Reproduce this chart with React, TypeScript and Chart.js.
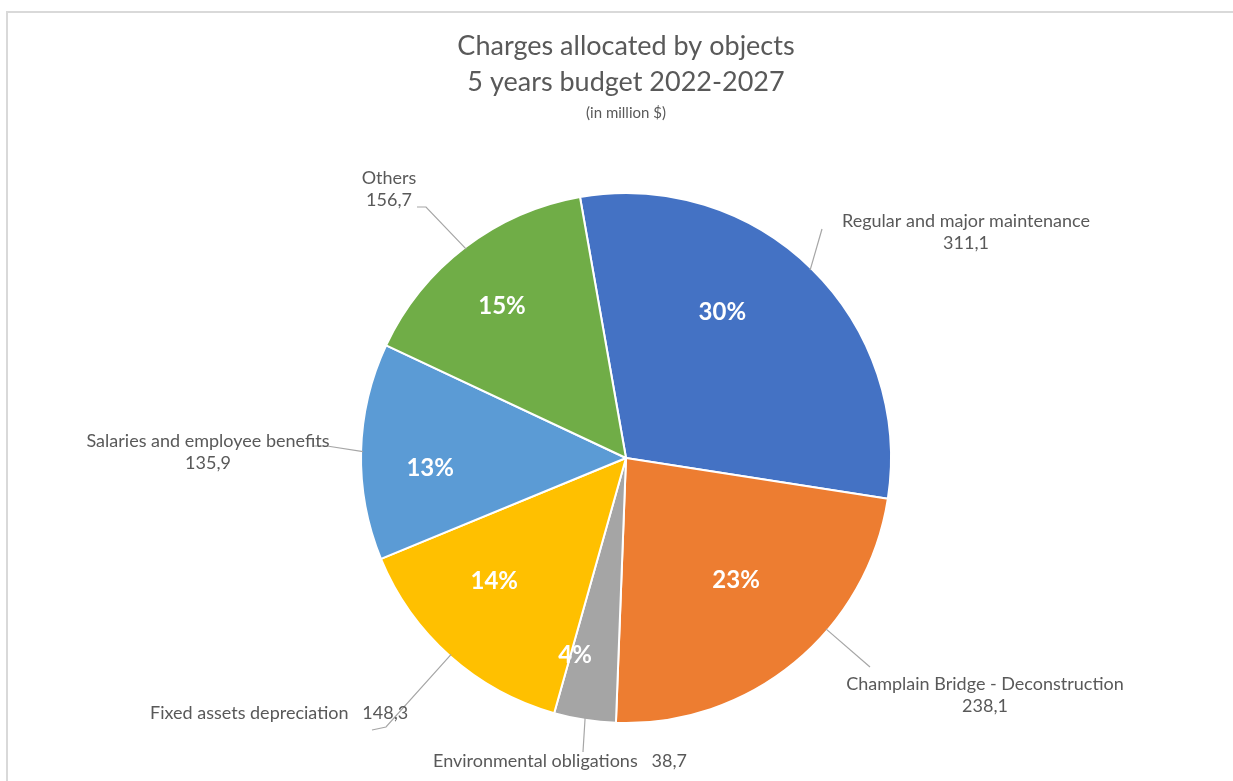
import React, { useEffect, useRef } from "react";
import { Chart, registerables } from "chart.js";

Chart.register(...registerables);

const categories = [
  "Regular and major maintenance",
  "Champlain Bridge - Deconstruction",
  "Environmental obligations",
  "Fixed assets depreciation",
  "Salaries and employee benefits",
  "Others",
];
const valueLabels = ["311,1", "238,1", "38,7", "148,3", "135,9", "156,7"];
const values = [311.1, 238.1, 38.7, 148.3, 135.9, 156.7];
const colors = ["#4472C4", "#ED7D31", "#A5A5A5", "#FFC000", "#5B9BD5", "#70AD47"];
const titleLines = ["Charges allocated by objects", "5 years budget 2022-2027"];
const subtitle = "(in million $)";

// label placement (relative to pie centre), kept apart from the data
type Place = {
  pctAngle: number; // degrees offset from mid-angle for the % label
  pctR: number; // fraction of radius for the % label
  mode: "stack" | "inline";
  tx: number;
  ty: number;
  leader: [number, number][];
  edgeAngle: number; // deg offset of leader end from mid angle
};
const places: Place[] = [
  { pctAngle: -11, pctR: 0.66, mode: "stack", tx: 340, ty: -237, leader: [[196, -229]], edgeAngle: 0 },
  { pctAngle: -2.6, pctR: 0.62, mode: "stack", tx: 359, ty: 226, leader: [[244, 209]], edgeAngle: -10 },
  { pctAngle: 5.5, pctR: 0.77, mode: "inline", tx: -193, ty: 303, leader: [[-43, 294]], edgeAngle: 0 },
  { pctAngle: 5.3, pctR: 0.68, mode: "inline", tx: -476, ty: 255, leader: [[-254, 272], [-240, 269]], edgeAngle: 0 },
  { pctAngle: -4.5, pctR: 0.74, mode: "stack", tx: -418, ty: -17, leader: [[-313, -12], [-299, -12]], edgeAngle: 0 },
  { pctAngle: -1.8, pctR: 0.74, mode: "stack", tx: -237, ty: -280, leader: [[-209, -251], [-200, -251]], edgeAngle: 0 },
];

const FONT = "Lato, 'Open Sans', sans-serif";
const TEXT = "#595959";

const overlay = {
  id: "overlay",
  beforeDraw(chart: any) {
    const ctx = chart.ctx;
    ctx.save();
    ctx.strokeStyle = "#d9d9d9";
    ctx.lineWidth = 2;
    ctx.beginPath();
    ctx.moveTo(7, 781);
    ctx.lineTo(7, 12);
    ctx.lineTo(1233, 12);
    ctx.stroke();
    ctx.restore();
  },
  afterDraw(chart: any) {
    const ctx = chart.ctx;
    const meta = chart.getDatasetMeta(0);
    const arcs = meta.data;
    if (!arcs.length) return;
    const cx = arcs[0].x;
    const cy = arcs[0].y;
    const R = arcs[0].outerRadius;
    const total = values.reduce((a, b) => a + b, 0);
    ctx.save();
    // titles
    ctx.fillStyle = TEXT;
    ctx.textAlign = "center";
    ctx.textBaseline = "middle";
    ctx.font = `27px ${FONT}`;
    ctx.fillText(titleLines[0], cx, 46);
    ctx.fillText(titleLines[1], cx, 82);
    ctx.font = `15px ${FONT}`;
    ctx.fillText(subtitle, cx, 113);

    arcs.forEach((arc: any, i: number) => {
      const p = places[i];
      const mid = (arc.startAngle + arc.endAngle) / 2;
      // percentage label
      const pa = mid + (p.pctAngle * Math.PI) / 180;
      const pr = R * p.pctR;
      const pct = Math.round((values[i] / total) * 100) + "%";
      ctx.font = `bold 24px ${FONT}`;
      ctx.fillStyle = "#ffffff";
      ctx.textAlign = "center";
      ctx.textBaseline = "middle";
      ctx.fillText(pct, cx + Math.cos(pa) * pr, cy + Math.sin(pa) * pr);

      // leader line
      const ea = mid + (p.edgeAngle * Math.PI) / 180;
      ctx.strokeStyle = "#a6a6a6";
      ctx.lineWidth = 1.2;
      ctx.beginPath();
      p.leader.forEach(([dx, dy], k) => {
        if (k === 0) ctx.moveTo(cx + dx, cy + dy);
        else ctx.lineTo(cx + dx, cy + dy);
      });
      ctx.lineTo(cx + Math.cos(ea) * (R - 2), cy + Math.sin(ea) * (R - 2));
      ctx.stroke();

      // category text
      ctx.fillStyle = TEXT;
      ctx.font = `18px ${FONT}`;
      if (p.mode === "stack") {
        ctx.textAlign = "center";
        ctx.fillText(categories[i], cx + p.tx, cy + p.ty);
        ctx.fillText(valueLabels[i], cx + p.tx, cy + p.ty + 22);
      } else {
        ctx.textAlign = "left";
        ctx.fillText(categories[i] + "   " + valueLabels[i], cx + p.tx, cy + p.ty);
      }
    });
    ctx.restore();
  },
};

export default function App() {
  const ref = useRef<HTMLCanvasElement | null>(null);
  useEffect(() => {
    document.body.style.margin = "0";
    const canvas = ref.current;
    if (!canvas) return;
    const chart = new Chart(canvas, {
      type: "pie",
      data: {
        labels: categories,
        datasets: [
          {
            data: values,
            backgroundColor: colors,
            borderColor: "#ffffff",
            borderWidth: 2,
          },
        ],
      },
      options: {
        responsive: false,
        animation: false,
        rotation: -10,
        layout: { padding: { top: 192, bottom: 57, left: 300, right: 281 } },
        plugins: {
          legend: { display: false },
          title: { display: false },
          tooltip: { enabled: false },
        },
      },
      plugins: [overlay],
    });
    return () => chart.destroy();
  }, []);
  return (
    <div style={{ width: 1233, height: 781, background: "#fff" }}>
      <canvas ref={ref} width={1233} height={781} style={{ display: "block" }} />
    </div>
  );
}
